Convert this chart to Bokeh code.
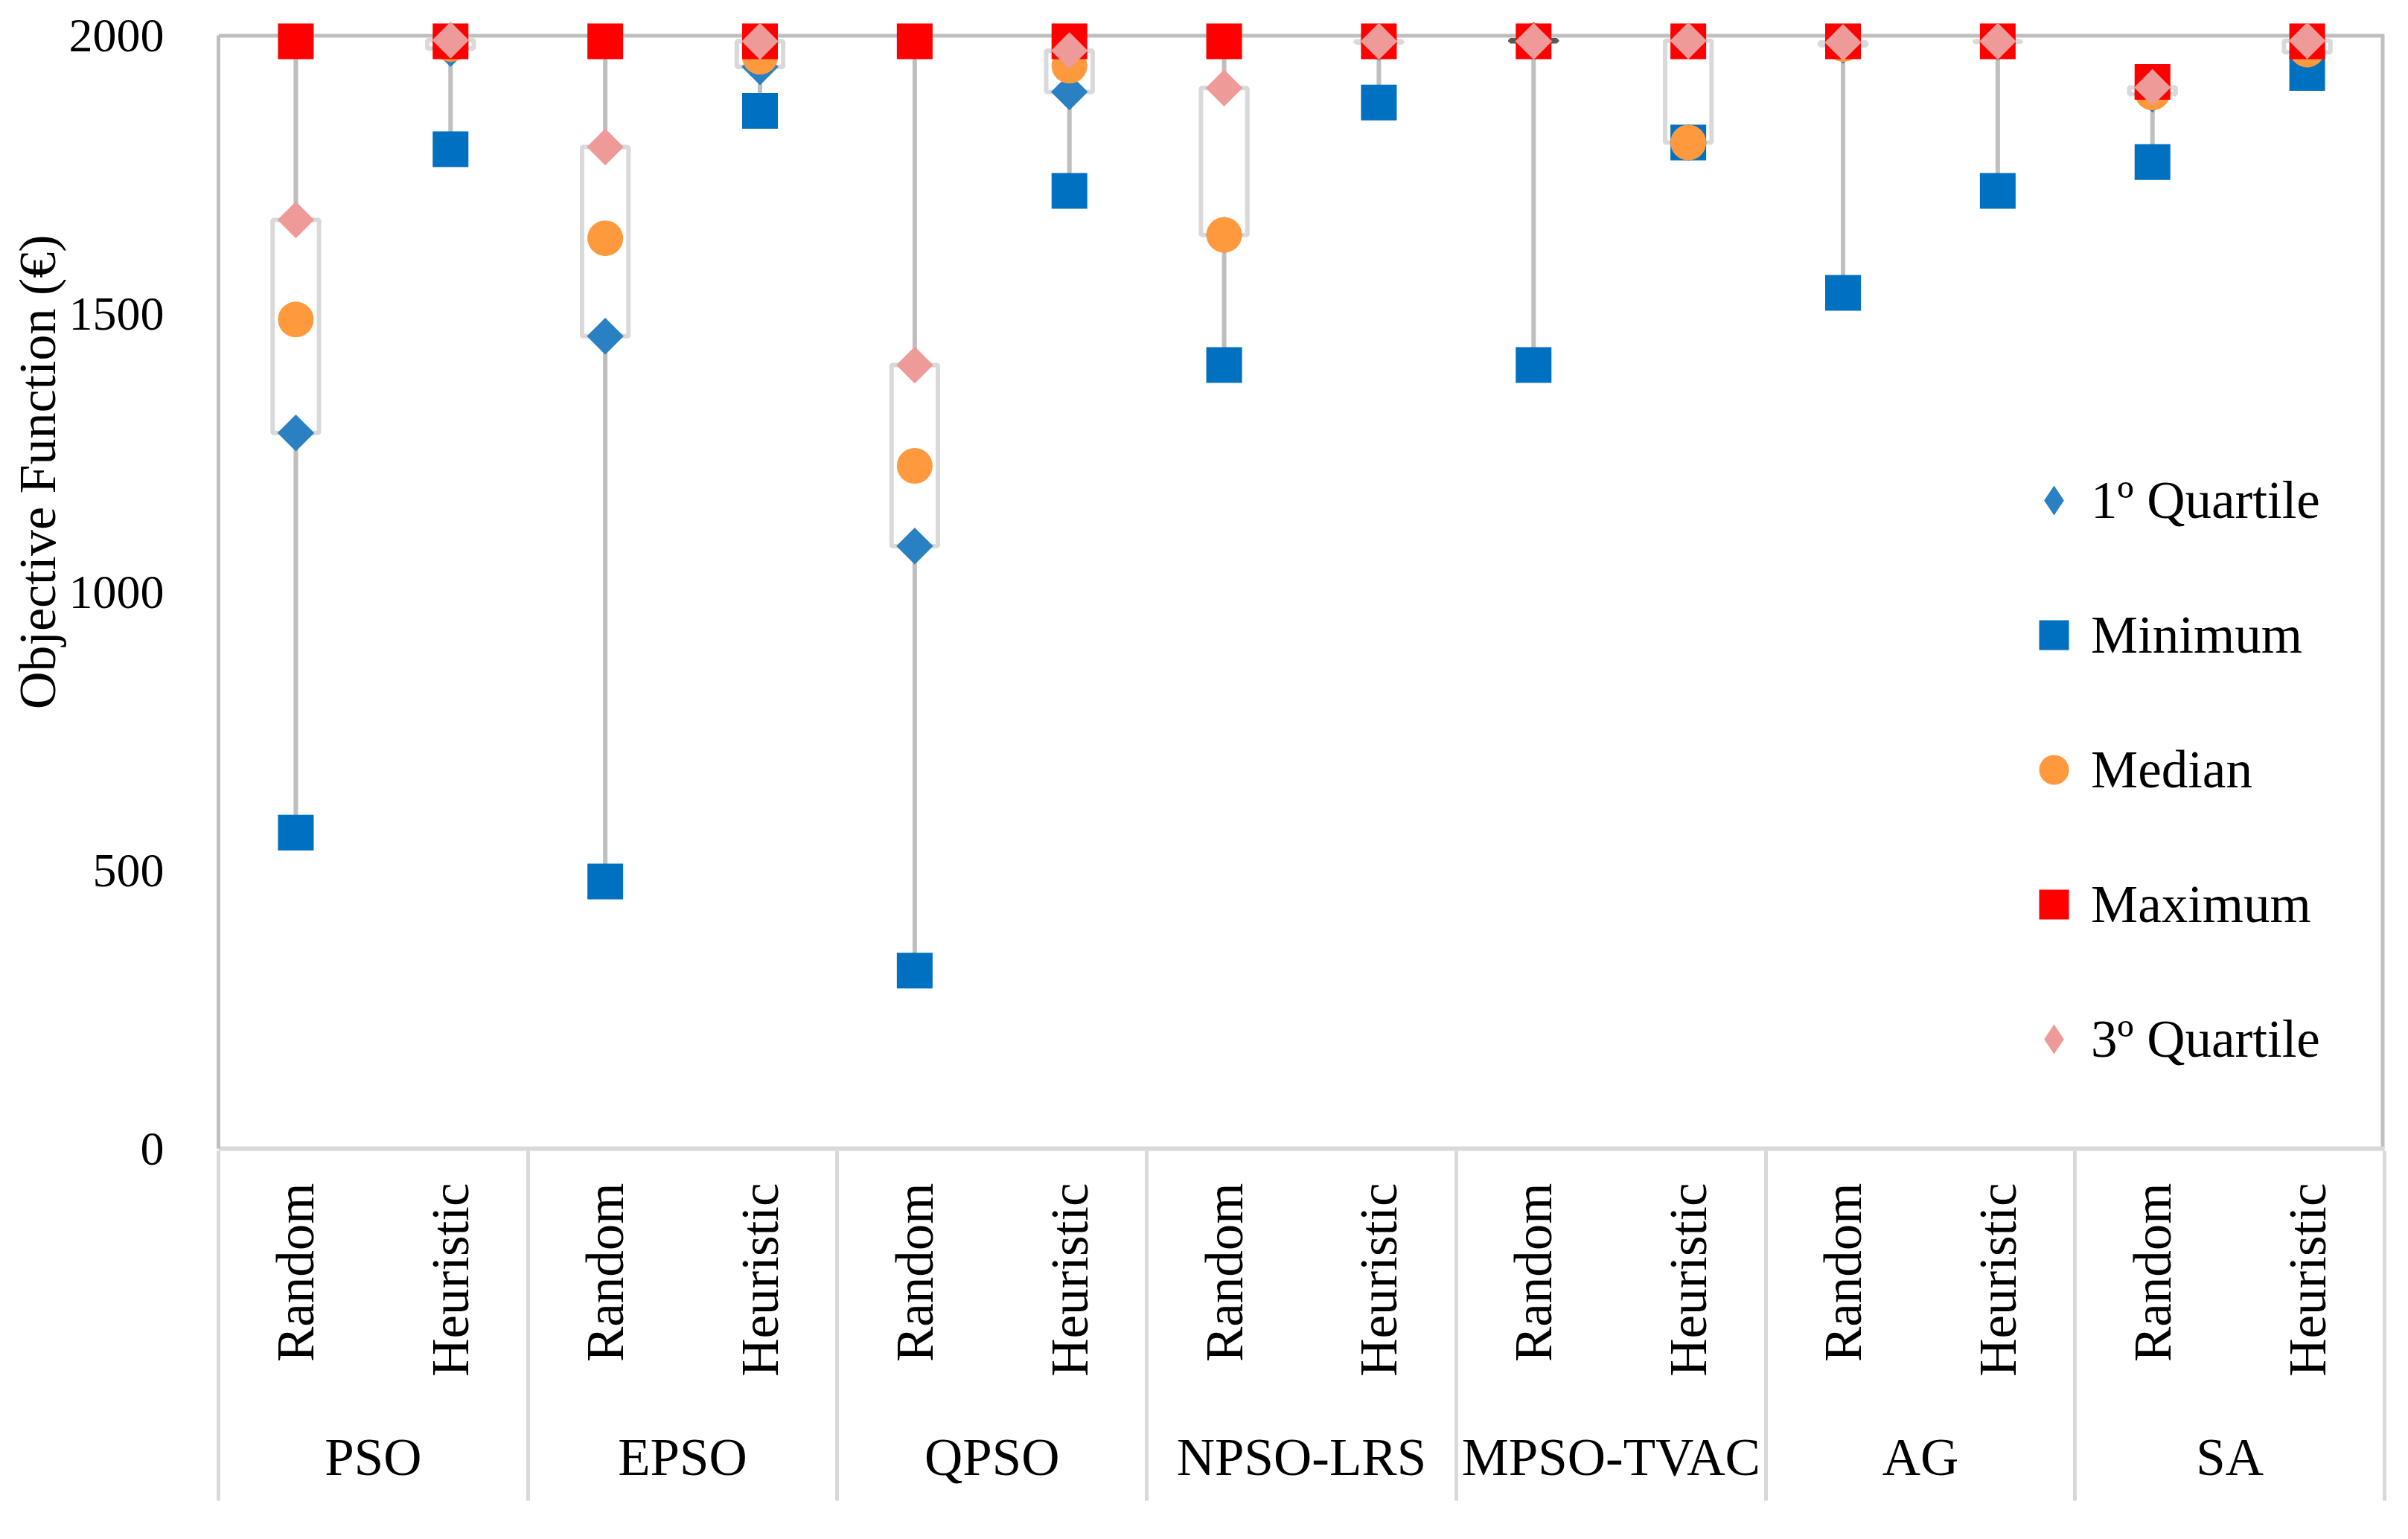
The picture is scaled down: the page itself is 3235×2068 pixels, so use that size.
import math
from bokeh.plotting import figure
from bokeh.models import (Range1d, LinearAxis, FixedTicker, Legend,
                          LegendItem, Title, ColumnDataSource)
from bokeh.embed import file_html
from bokeh.resources import INLINE

# ---------------- data ----------------
algorithms = ["PSO", "EPSO", "QPSO", "NPSO-LRS", "MPSO-TVAC", "AG", "SA"]
initializations = ["Random", "Heuristic"]

# order: PSO-R, PSO-H, EPSO-R, EPSO-H, QPSO-R, QPSO-H, NPSO-R, NPSO-H,
#        MPSO-R, MPSO-H, AG-R, AG-H, SA-R, SA-H
minimum = [568, 1796, 480, 1865, 320, 1721, 1408, 1880, 1408, 1808, 1538, 1721, 1773, 1933]
quartile1 = [1286, 1977, 1460, 1944, 1083, 1899, 1642, 1988, 1992, 1808, 1983, 1989, 1895, 1970]
median = [1490, 1985, 1636, 1962, 1227, 1946, 1642, 1989, 1991, 1808, 1985, 1990, 1898, 1975]
maximum = [1990, 1990, 1990, 1990, 1990, 1990, 1990, 1990, 1990, 1990, 1990, 1990, 1917, 1990]
quartile3 = [1669, 1992, 1800, 1990, 1408, 1973, 1906, 1990, 1990, 1991, 1988, 1990, 1907, 1991]

y_ticks = [0, 500, 1000, 1500, 2000]
series_names = ["1º Quartile", "Minimum", "Median", "Maximum", "3º Quartile"]
y_title = "Objective Function (€)"

# ---------------- styling ----------------
FONT = "Liberation Serif"
C_Q1 = "#2980C2"
C_MIN = "#0070C0"
C_MED = "#FF993D"
C_MAX = "#FF0000"
C_Q3 = "#EE9A98"
C_FRAME = "#BFBFBF"
C_LIGHT = "#D9D9D9"

factors = [(a, i) for a in algorithms for i in initializations]
n = len(factors)
ng = len(algorithms)
xpos = [k + 0.5 for k in range(n)]          # category slot centres
box_colors = ["#595959" if q3 < q1 else C_LIGHT for q1, q3 in zip(quartile1, quartile3)]

src = ColumnDataSource(dict(x=xpos, mn=minimum, q1=quartile1, md=median,
                            mx=maximum, q3=quartile3, bc=box_colors))

p = figure(width=3219, height=2052,
           x_range=Range1d(0, n), y_range=Range1d(0, 2030),
           x_axis_location=None,
           output_backend="svg", toolbar_location=None,
           min_border_left=293, min_border_right=16,
           min_border_top=25, min_border_bottom=509,
           outline_line_color=None, background_fill_color="white")
p.grid.visible = False

# frame lines (top and right) drawn beneath the markers
p.segment(x0=[0], y0=[2000], x1=[n], y1=[2000], line_color=C_FRAME, line_width=5)
p.segment(x0=[n], y0=[0], x1=[n], y1=[2000], line_color=C_FRAME, line_width=10)

# whiskers and boxes
p.segment(x0="x", y0="mn", x1="x", y1="mx", source=src, line_color=C_FRAME, line_width=6)
p.vbar(x="x", width=0.30, bottom="q1", top="q3", source=src,
       fill_color="white", line_color="bc", line_width=6)

# markers (series order as in the original: later ones on top)
r_q1 = p.scatter(x="x", y="q1", source=src, marker="square", size=35,
                 angle=math.pi / 4, fill_color=C_Q1, line_color=None)
r_min = p.scatter(x="x", y="mn", source=src, marker="square", size=48,
                  fill_color=C_MIN, line_color=None)
r_med = p.scatter(x="x", y="md", source=src, marker="circle", size=48,
                  fill_color=C_MED, line_color=None)
r_max = p.scatter(x="x", y="mx", source=src, marker="square", size=48,
                  fill_color=C_MAX, line_color=None)
r_q3 = p.scatter(x="x", y="q3", source=src, marker="square", size=35,
                 angle=math.pi / 4, fill_color=C_Q3, line_color=None)

# legend glyphs for the quartile series (zero-size in the plot itself)
lg_q1 = p.scatter(x="x", y="q1", source=src, marker="diamond", size=0,
                  fill_color=C_Q1, line_color=None)
lg_q3 = p.scatter(x="x", y="q3", source=src, marker="diamond", size=0,
                  fill_color=C_Q3, line_color=None)

# ---------------- y axis ----------------
yax = p.yaxis[0]
yax.ticker = FixedTicker(ticks=y_ticks)
yax.bounds = (0, 2000)
yax.axis_line_color = C_FRAME
yax.axis_line_width = 5
yax.major_tick_line_color = None
yax.minor_tick_line_color = None
yax.major_tick_out = 0
yax.minor_tick_out = 0
yax.major_label_standoff = 73
yax.major_label_text_font = FONT
yax.major_label_text_font_size = "64px"
yax.major_label_text_color = "black"

p.add_layout(Title(text=y_title, align="right", offset=290, vertical_align="middle",
                   standoff=0, text_font=FONT, text_font_size="70px",
                   text_font_style="normal", text_color="black"), "left")

# ---------------- x axes ----------------
p.extra_x_ranges = {"grp": Range1d(0, ng)}

sub_ax = LinearAxis(ticker=FixedTicker(ticks=xpos, minor_ticks=[]),
                    major_label_overrides={xpos[k]: f[1] for k, f in enumerate(factors)})
sub_ax.axis_line_color = C_LIGHT
sub_ax.axis_line_width = 6
sub_ax.major_tick_line_color = None
sub_ax.minor_tick_line_color = None
sub_ax.major_tick_out = 0
sub_ax.minor_tick_out = 0
sub_ax.major_label_orientation = math.pi / 2
sub_ax.major_label_standoff = 46
sub_ax.major_label_text_font = FONT
sub_ax.major_label_text_font_size = "71px"
sub_ax.major_label_text_color = "black"
p.add_layout(sub_ax, "below")

grp_ticks = [g + 0.5 for g in range(ng)]
grp_ax = LinearAxis(x_range_name="grp",
                    ticker=FixedTicker(ticks=grp_ticks, minor_ticks=list(range(ng + 1))),
                    major_label_overrides={grp_ticks[g]: a for g, a in enumerate(algorithms)})
grp_ax.axis_line_color = None
grp_ax.major_tick_line_color = None
grp_ax.major_tick_out = 0
grp_ax.minor_tick_line_color = C_LIGHT
grp_ax.minor_tick_line_width = 5
grp_ax.minor_tick_in = 306
grp_ax.minor_tick_out = 164
grp_ax.major_label_standoff = -98
grp_ax.major_label_text_font = FONT
grp_ax.major_label_text_font_size = "71px"
grp_ax.major_label_text_color = "black"
p.add_layout(grp_ax, "below")

# ---------------- legend ----------------
legend = Legend(items=[LegendItem(label=series_names[0], renderers=[lg_q1]),
                       LegendItem(label=series_names[1], renderers=[r_min]),
                       LegendItem(label=series_names[2], renderers=[r_med]),
                       LegendItem(label=series_names[3], renderers=[r_max]),
                       LegendItem(label=series_names[4], renderers=[lg_q3])],
                location=(2416, 97), orientation="vertical",
                glyph_width=100, glyph_height=100, label_height=100,
                spacing=81, padding=0, margin=0, label_standoff=-15,
                border_line_color=None, background_fill_alpha=0,
                label_text_font=FONT, label_text_font_size="71px",
                label_text_color="black")
p.add_layout(legend)

open("out.html", "w").write(file_html(p, INLINE))
